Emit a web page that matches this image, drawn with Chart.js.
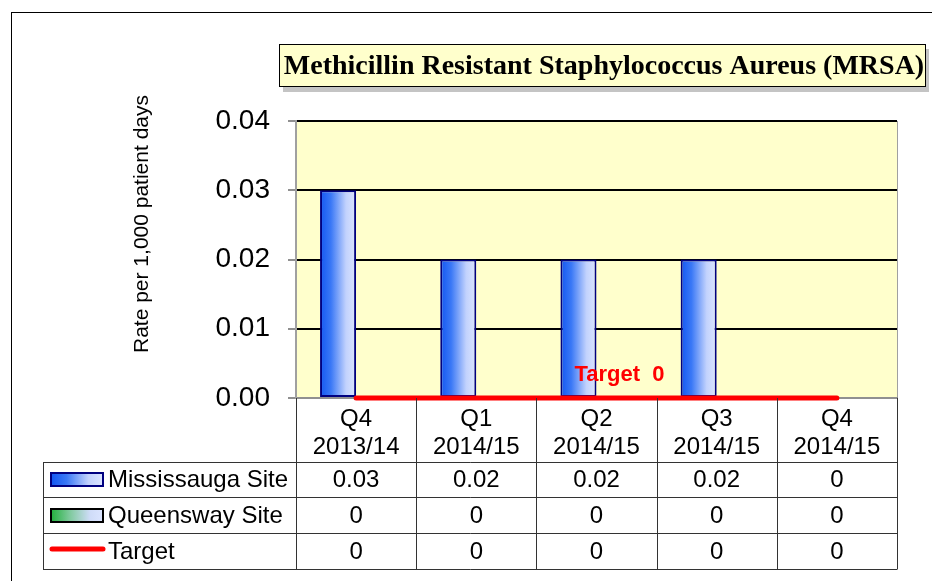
<!DOCTYPE html>
<html>
<head>
<meta charset="utf-8">
<script src="https://cdn.jsdelivr.net/npm/chart.js@4.4.1/dist/chart.umd.min.js"></script>
<style>
  html, body { margin: 0; padding: 0; background: #fff; }
  #wrap { width: 932px; height: 581px; }
</style>
</head>
<body>
<div id="wrap"><canvas id="chart" width="932" height="581"></canvas></div>
<script>
// ── Data ─────────────────────────────────────────────────────────────────────

const categories  = [['Q4', '2013/14'], ['Q1', '2014/15'], ['Q2', '2014/15'], ['Q3', '2014/15'], ['Q4', '2014/15']];
const mississauga = [0.03, 0.02, 0.02, 0.02, 0];
const queensway   = [0, 0, 0, 0, 0];
const target      = [0, 0, 0, 0, 0];
const seriesNames = ['Mississauga Site', 'Queensway Site', 'Target'];

const TITLE   = 'Methicillin Resistant Staphylococcus Aureus (MRSA)';
const Y_TITLE = 'Rate per 1,000 patient days';
const TARGET_LABEL = 'Target  0';

const SANS  = '"Liberation Sans", Arial, sans-serif';
const SERIF = '"Liberation Serif", "Times New Roman", serif';

// ── Helpers ──────────────────────────────────────────────────────────────────

function hGradient(ctx, x0, x1, stops) {
    const g = ctx.createLinearGradient(x0, 0, x1, 0);
    stops.forEach(([p, c]) => g.addColorStop(p, c));
    return g;
}

const BLUE_STOPS  = [[0, '#1256f2'], [0.3, '#3a78f6'], [0.72, '#c2d2fd'], [1, '#dce5ff']];
const GREEN_STOPS = [[0, '#22b03c'], [0.35, '#7cc99a'], [0.75, '#cfdcf8'], [1, '#dce5ff']];

function barFill(context) {
    const chart = context.chart;
    const x = chart.scales.x;
    if (!x || context.dataIndex === undefined) return '#3f7cf6';
    const catW = x.getPixelForValue(1) - x.getPixelForValue(0);
    const c = x.getPixelForValue(context.dataIndex);
    if (!isFinite(catW) || !isFinite(c) || catW <= 0) return '#3f7cf6';
    const bw = catW * 0.6 / 2;
    const left = context.datasetIndex === 0 ? c - bw : c;
    return hGradient(chart.ctx, left, left + bw, context.datasetIndex === 0 ? BLUE_STOPS : GREEN_STOPS);
}

// ── Frame, title box and data table ─────────────────────────────────────────

const ROWS = [398, 462, 497, 533, 569];
const TABLE_LEFT = 43;

const frame = {
    id: 'frame',
    beforeDraw(chart) {
        const { ctx, chartArea: a } = chart;
        ctx.save();
        ctx.fillStyle = '#fff';
        ctx.fillRect(0, 0, chart.width, chart.height);
        ctx.strokeStyle = '#000';
        ctx.lineWidth = 1;
        ctx.strokeRect(11.5, 12.5, 1000, 700);

        // plot area
        ctx.fillStyle = '#ffffcc';
        ctx.fillRect(a.left, a.top, a.right - a.left, a.bottom - a.top);
        ctx.strokeStyle = '#a0a0a0';
        ctx.beginPath();
        ctx.moveTo(a.right + 0.5, a.top);
        ctx.lineTo(a.right + 0.5, a.bottom);
        ctx.stroke();

        // title box with shadow
        ctx.fillStyle = '#c4c4c4';
        ctx.fillRect(283, 49, 646, 43);
        ctx.fillStyle = '#ffffcc';
        ctx.fillRect(279.5, 44.5, 646, 42);
        ctx.strokeStyle = '#000';
        ctx.strokeRect(279.5, 44.5, 646, 42);
        ctx.fillStyle = '#000';
        ctx.font = `bold 28px ${SERIF}`;
        ctx.textAlign = 'center';
        ctx.textBaseline = 'middle';
        ctx.fillText(TITLE, 604, 67);
        ctx.restore();
    },
    afterDatasetsDraw(chart) {
        const { ctx } = chart;
        const x = chart.scales.x, y = chart.scales.y;
        ctx.save();
        ctx.fillStyle = '#ff0000';
        ctx.font = `bold 22px ${SANS}`;
        ctx.textAlign = 'left';
        ctx.textBaseline = 'middle';
        ctx.fillText(TARGET_LABEL, x.getPixelForValue(2) - 22, y.getPixelForValue(target[2]) - 23);
        ctx.restore();
    },
    afterDraw(chart) {
        const { ctx, chartArea: a } = chart;
        const x = chart.scales.x;
        const catW = x.getPixelForValue(1) - x.getPixelForValue(0);
        const bounds = categories.map((_, i) => Math.round(x.getPixelForValue(i) - catW / 2) + 0.5);
        bounds.push(Math.round(a.right) + 0.5);

        ctx.save();
        ctx.strokeStyle = '#333';
        ctx.lineWidth = 1;
        ctx.beginPath();
        bounds.forEach(bx => { ctx.moveTo(bx, ROWS[0]); ctx.lineTo(bx, ROWS[4]); });
        ctx.moveTo(TABLE_LEFT + 0.5, ROWS[1]);
        ctx.lineTo(TABLE_LEFT + 0.5, ROWS[4]);
        ROWS.slice(1).forEach(ry => { ctx.moveTo(TABLE_LEFT, ry + 0.5); ctx.lineTo(bounds[bounds.length - 1], ry + 0.5); });
        ctx.stroke();

        // values
        const values = [mississauga, queensway, target];
        ctx.fillStyle = '#000';
        ctx.font = `24px ${SANS}`;
        ctx.textBaseline = 'middle';
        values.forEach((row, r) => {
            const cy = (ROWS[r + 1] + ROWS[r + 2]) / 2 + 1;
            ctx.textAlign = 'center';
            row.forEach((v, i) => ctx.fillText(String(v), x.getPixelForValue(i), cy));
            ctx.textAlign = 'left';
            ctx.fillText(seriesNames[r], 108, cy);
        });

        // legend keys
        const keys = [[473, BLUE_STOPS, '#000080'], [509, GREEN_STOPS, '#000']];
        keys.forEach(([ky, stops, border]) => {
            ctx.fillStyle = hGradient(ctx, 51, 103, stops);
            ctx.fillRect(51, ky, 52, 13);
            ctx.strokeStyle = border;
            ctx.lineWidth = 2;
            ctx.strokeRect(51, ky, 52, 13);
        });
        ctx.strokeStyle = '#ff0000';
        ctx.lineWidth = 5;
        ctx.lineCap = 'round';
        ctx.beginPath();
        ctx.moveTo(52, 549);
        ctx.lineTo(103, 549);
        ctx.stroke();

        // y axis title
        ctx.fillStyle = '#000';
        ctx.font = `21px ${SANS}`;
        ctx.textAlign = 'center';
        ctx.textBaseline = 'middle';
        ctx.translate(142, 224);
        ctx.rotate(-Math.PI / 2);
        ctx.fillText(Y_TITLE, 0, 0);
        ctx.restore();
    }
};

// ── Chart ────────────────────────────────────────────────────────────────────

new Chart(document.getElementById('chart').getContext('2d'), {
    type: 'bar',
    data: {
        labels: categories,
        datasets: [
            {
                label: seriesNames[0],
                data: mississauga,
                backgroundColor: barFill,
                borderColor: '#000080',
                borderWidth: 2,
                borderSkipped: false,
                order: 1,
            },
            {
                label: seriesNames[1],
                data: queensway,
                backgroundColor: barFill,
                borderColor: '#000',
                borderWidth: 0,
                order: 1,
            },
            {
                type: 'line',
                label: seriesNames[2],
                data: target,
                borderColor: '#ff0000',
                borderWidth: 5,
                borderCapStyle: 'round',
                pointRadius: 0,
                fill: false,
                clip: false,
                order: 0,
            },
        ],
    },
    options: {
        responsive: false,
        animation: false,
        devicePixelRatio: 1,
        layout: { padding: { left: 0, top: 121, right: 35, bottom: 119 } },
        datasets: { bar: { categoryPercentage: 0.6, barPercentage: 1 } },
        plugins: { legend: { display: false }, tooltip: { enabled: false }, title: { display: false } },
        scales: {
            x: {
                afterFit: s => { s.height = 64; },
                grid: { display: false },
                border: { display: true, color: '#909090', width: 2 },
                ticks: { color: '#000', font: { family: SANS, size: 24, lineHeight: 1.15 }, padding: 0, maxRotation: 0, autoSkip: false },
            },
            y: {
                min: 0,
                max: 0.04,
                afterFit: s => { s.width = 296; },
                grid: { color: '#000', lineWidth: 2, tickColor: '#909090', tickLength: 8, tickWidth: 2 },
                border: { color: '#a0a0a0', width: 2 },
                ticks: { stepSize: 0.01, color: '#000', padding: 18, font: { family: SANS, size: 28 }, callback: v => v.toFixed(2) },
            },
        },
    },
    plugins: [frame],
});
</script>
</body>
</html>
